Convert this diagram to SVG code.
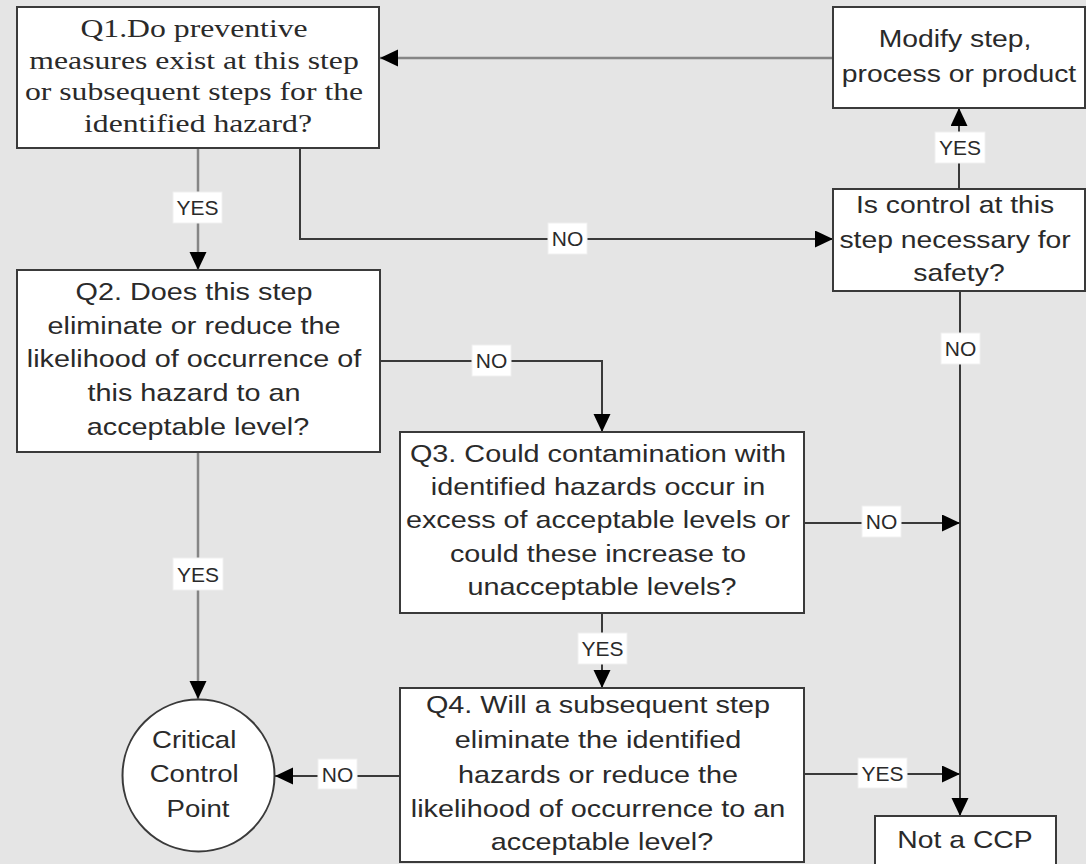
<svg xmlns="http://www.w3.org/2000/svg" width="1086" height="864" viewBox="0 0 1086 864">
<defs>
<style>
.box{fill:#fff;stroke:#3a3a3a;stroke-width:2}
.sans{font-family:"Liberation Sans",Arial,sans-serif;font-size:24px;fill:#2a2a2a;text-anchor:middle}
.serif{font-family:"Liberation Serif","Times New Roman",serif;font-size:26px;fill:#2a2a2a;text-anchor:middle}
.lbl{font-family:"Liberation Sans",Arial,sans-serif;font-size:20px;fill:#2a2a2a;text-anchor:middle}
.lblbox{fill:#fff;stroke:#f0f0f0;stroke-width:1}
.c{fill:none;stroke:#3a3a3a;stroke-width:2}
.g{fill:none;stroke:#858585;stroke-width:2.5}
</style>
<marker id="ah" markerUnits="userSpaceOnUse" markerWidth="18" markerHeight="18" refX="18" refY="8.5" orient="auto">
<path d="M0,0 L18,8.5 L0,17 z" fill="#000"/>
</marker>
</defs>
<rect x="0" y="0" width="1086" height="864" fill="#e5e5e5"/>

<g id="connectors">
<path class="g" d="M833,58 H380" marker-end="url(#ah)"/>
<path class="g" d="M198,148 V270" marker-end="url(#ah)"/>
<path class="c" d="M300,148 V239 H833" marker-end="url(#ah)"/>
<path class="c" d="M959,189 V108" marker-end="url(#ah)"/>
<path class="c" d="M380,361 H602 V432" marker-end="url(#ah)"/>
<path class="c" d="M960,291 V816" marker-end="url(#ah)"/>
<path class="c" d="M804,523 H960" marker-end="url(#ah)"/>
<path class="c" d="M602,613 V688" marker-end="url(#ah)"/>
<path class="g" d="M198,452 V699" marker-end="url(#ah)"/>
<path class="c" d="M400,776 H275" marker-end="url(#ah)"/>
<path class="c" d="M804,774 H960" marker-end="url(#ah)"/>

<rect class="lblbox" x="173" y="192" width="49" height="31"/>
<text class="lbl" transform="translate(197.5,0) scale(1.05,1)" x="0" y="215">YES</text>
<rect class="lblbox" x="548" y="223" width="39" height="31"/>
<text class="lbl" transform="translate(567.5,0) scale(1.05,1)" x="0" y="246">NO</text>
<rect class="lblbox" x="935" y="132" width="50" height="31"/>
<text class="lbl" transform="translate(960,0) scale(1.05,1)" x="0" y="155">YES</text>
<rect class="lblbox" x="472" y="345" width="39" height="31"/>
<text class="lbl" transform="translate(491.5,0) scale(1.05,1)" x="0" y="368">NO</text>
<rect class="lblbox" x="941" y="333" width="39" height="31"/>
<text class="lbl" transform="translate(960.5,0) scale(1.05,1)" x="0" y="356">NO</text>
<rect class="lblbox" x="862" y="506" width="39" height="31"/>
<text class="lbl" transform="translate(881.5,0) scale(1.05,1)" x="0" y="529">NO</text>
<rect class="lblbox" x="173" y="558" width="50" height="32"/>
<text class="lbl" transform="translate(198,0) scale(1.05,1)" x="0" y="582">YES</text>
<rect class="lblbox" x="578" y="633" width="49" height="31"/>
<text class="lbl" transform="translate(602.5,0) scale(1.05,1)" x="0" y="656">YES</text>
<rect class="lblbox" x="318" y="759" width="39" height="30"/>
<text class="lbl" transform="translate(337.5,0) scale(1.05,1)" x="0" y="782">NO</text>
<rect class="lblbox" x="858" y="758" width="49" height="30"/>
<text class="lbl" transform="translate(882.5,0) scale(1.05,1)" x="0" y="781">YES</text>
</g>

<g id="q1">
<rect class="box" x="17" y="7" width="362" height="141"/>
<text class="serif" transform="translate(198,0) scale(1.22,1)">
<tspan x="0" y="37">Q1.Do preventive</tspan>
<tspan x="0" y="69">measures exist at this step</tspan>
<tspan x="0" y="100">or subsequent steps for the</tspan>
<tspan x="0" y="132">identified hazard?</tspan>
</text>
</g>

<g id="modify">
<rect class="box" x="833" y="7" width="252" height="101"/>
<text class="sans" transform="translate(959,0) scale(1.18,1)">
<tspan x="0" y="47">Modify step,</tspan>
<tspan x="0" y="82">process or product</tspan>
</text>
</g>

<g id="control">
<rect class="box" x="833" y="189" width="252" height="102"/>
<text class="sans" transform="translate(959,0) scale(1.18,1)">
<tspan x="0" y="213">Is control at this</tspan>
<tspan x="0" y="248">step necessary for</tspan>
<tspan x="0" y="281">safety?</tspan>
</text>
</g>

<g id="q2">
<rect class="box" x="17" y="270" width="363" height="182"/>
<text class="sans" transform="translate(198,0) scale(1.2,1)">
<tspan x="0" y="300">Q2. Does this step</tspan>
<tspan x="0" y="334">eliminate or reduce the</tspan>
<tspan x="0" y="367">likelihood of occurrence of</tspan>
<tspan x="0" y="401">this hazard to an</tspan>
<tspan x="0" y="435">acceptable level?</tspan>
</text>
</g>

<g id="q3">
<rect class="box" x="400" y="432" width="404" height="181"/>
<text class="sans" transform="translate(602,0) scale(1.2,1)">
<tspan x="0" y="462">Q3. Could contamination with</tspan>
<tspan x="0" y="495">identified hazards occur in</tspan>
<tspan x="0" y="528">excess of acceptable levels or</tspan>
<tspan x="0" y="562">could these increase to</tspan>
<tspan x="0" y="595">unacceptable levels?</tspan>
</text>
</g>

<g id="q4">
<rect class="box" x="400" y="688" width="404" height="174"/>
<text class="sans" transform="translate(602,0) scale(1.2,1)">
<tspan x="0" y="713">Q4. Will a subsequent step</tspan>
<tspan x="0" y="748">eliminate the identified</tspan>
<tspan x="0" y="783">hazards or reduce the</tspan>
<tspan x="0" y="817">likelihood of occurrence to an</tspan>
<tspan x="0" y="850">acceptable level?</tspan>
</text>
</g>

<g id="ccp">
<circle class="box" cx="198.5" cy="775.5" r="76"/>
<text class="sans" transform="translate(198,0) scale(1.15,1)">
<tspan x="0" y="748">Critical</tspan>
<tspan x="0" y="782">Control</tspan>
<tspan x="0" y="817">Point</tspan>
</text>
</g>

<g id="notccp">
<rect class="box" x="875" y="816" width="181" height="60"/>
<text class="sans" transform="translate(965,0) scale(1.18,1)" x="0" y="848">Not a CCP</text>
</g>
</svg>
